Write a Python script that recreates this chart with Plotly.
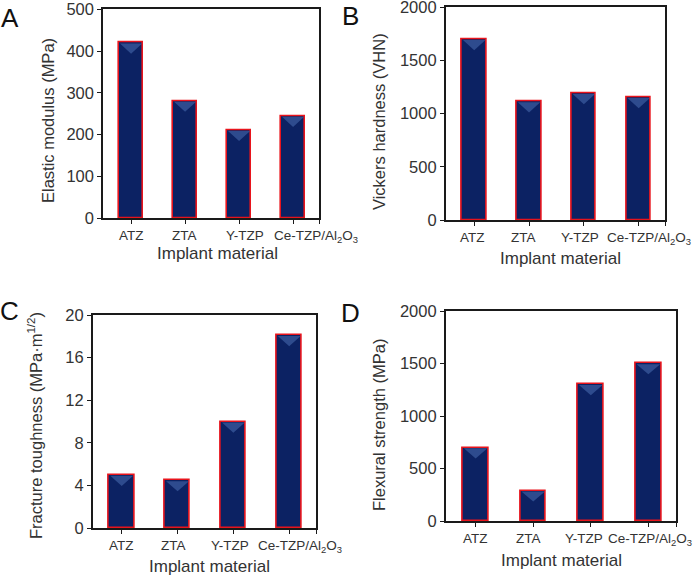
import plotly.graph_objects as go

materials = ["ATZ", "ZTA", "Y-TZP", "Ce-TZP/Al<sub>2</sub>O<sub>3</sub>"]
elastic_modulus = [420, 281, 211, 245]
vickers_hardness = [1700, 1115, 1192, 1155]
fracture_toughness = [5.0, 4.5, 10.0, 18.1]
flexural_strength = [700, 290, 1303, 1502]

panels = [
    dict(letter="A", values=elastic_modulus, ytitle="Elastic modulus (MPa)",
         yrange=[0, 500], dtick=100,
         px_x=[103, 319], px_y=[9.3, 218.3], label_shift=[0, -1, 6, 23],
         ytitle_pos=(48, 121), xtitle_pos=(217, 253), letter_pos=(10, 18)),
    dict(letter="B", values=vickers_hardness, ytitle="Vickers hardness (VHN)",
         yrange=[0, 2000], dtick=500,
         px_x=[445.7, 665], px_y=[7.3, 220], label_shift=[-2, -6, -4, 10],
         ytitle_pos=(379, 121), xtitle_pos=(560, 258), letter_pos=(351, 16)),
    dict(letter="C", values=fracture_toughness,
         ytitle="Fracture toughness (MPa·m<sup>1/2</sup>)",
         yrange=[0, 20], dtick=4,
         px_x=[92.7, 316], px_y=[315, 528.3], label_shift=[0, -4, -3, 11],
         ytitle_pos=(35, 426), xtitle_pos=(209, 566), letter_pos=(9, 311)),
    dict(letter="D", values=flexural_strength, ytitle="Flexural strength (MPa)",
         yrange=[0, 2000], dtick=500,
         px_x=[445.7, 676], px_y=[311, 521], label_shift=[0, -5, -7, 2],
         ytitle_pos=(379, 425), xtitle_pos=(561, 560), letter_pos=(351, 313)),
]

W, H = 697, 576
FONT = "Arial, Liberation Sans, Helvetica, sans-serif"
AXIS_COLOR = "#1a1a1a"
TEXT_COLOR = "#333333"
BAR_COLOR = "#0c2263"
TOP_COLOR = "#3a5a9c"
EDGE_COLOR = "#e8141c"
BAR_WIDTH = 0.45

fig = go.Figure()
annotations = []
xpos = list(range(len(materials)))

for i, p in enumerate(panels):
    n = "" if i == 0 else str(i + 1)
    xa, ya = "x" + n, "y" + n
    plot_h = p["px_y"][1] - p["px_y"][0]
    span = p["yrange"][1] - p["yrange"][0]
    tri_h = 11 * span / plot_h

    fig.add_trace(go.Bar(
        x=xpos, y=p["values"], width=BAR_WIDTH,
        marker=dict(color=BAR_COLOR, line=dict(color=EDGE_COLOR, width=1.6)),
        xaxis=xa, yaxis=ya, showlegend=False, hoverinfo="skip",
    ))
    # lighter bevel triangle at the top of each bar
    for k, v in enumerate(p["values"]):
        fig.add_trace(go.Scatter(
            x=[k - BAR_WIDTH / 2 + 0.02, k + BAR_WIDTH / 2 - 0.02, k, k - BAR_WIDTH / 2 + 0.02],
            y=[v - span * 0.004, v - span * 0.004, v - tri_h, v - span * 0.004],
            fill="toself", fillcolor=TOP_COLOR, mode="lines",
            line=dict(width=0), opacity=0.75,
            xaxis=xa, yaxis=ya, showlegend=False, hoverinfo="skip",
        ))

    axis_common = dict(
        showline=True, linecolor=AXIS_COLOR, linewidth=1.5, mirror=True,
        ticks="outside", ticklen=4, tickwidth=1.2, tickcolor=AXIS_COLOR,
        showgrid=False, zeroline=False, automargin=False,
    )
    fig.layout["xaxis" + n] = dict(
        domain=[p["px_x"][0] / W, p["px_x"][1] / W],
        anchor=ya, range=[-0.52, 3.48],
        tickvals=xpos + [3.48], showticklabels=False,
        **axis_common,
    )
    fig.layout["yaxis" + n] = dict(
        domain=[1 - p["px_y"][1] / H, 1 - p["px_y"][0] / H],
        anchor=xa, range=p["yrange"], dtick=p["dtick"],
        tickfont=dict(family=FONT, size=16.5, color=TEXT_COLOR),
        ticklabeloverflow="allow",
        **axis_common,
    )

    # category labels under the x axis
    for k, name in enumerate(materials):
        annotations.append(dict(
            text=name, x=k, y=0, xref=xa, yref=ya + " domain",
            xanchor="center", yanchor="top", yshift=-8, xshift=p["label_shift"][k],
            showarrow=False, font=dict(family=FONT, size=13.5, color=TEXT_COLOR),
        ))

    annotations.append(dict(
        text=p["ytitle"], x=p["ytitle_pos"][0] / W, y=1 - p["ytitle_pos"][1] / H,
        xref="paper", yref="paper", showarrow=False, textangle=-90,
        xanchor="center", yanchor="middle",
        font=dict(family=FONT, size=16.5, color=TEXT_COLOR),
    ))
    annotations.append(dict(
        text="Implant material", x=p["xtitle_pos"][0] / W, y=1 - p["xtitle_pos"][1] / H,
        xref="paper", yref="paper", showarrow=False,
        xanchor="center", yanchor="middle",
        font=dict(family=FONT, size=17, color=TEXT_COLOR),
    ))
    annotations.append(dict(
        text=p["letter"], x=p["letter_pos"][0] / W, y=1 - p["letter_pos"][1] / H,
        xref="paper", yref="paper", showarrow=False,
        xanchor="center", yanchor="middle",
        font=dict(family=FONT, size=26, color="#111111"),
    ))

fig.update_layout(
    width=W, height=H, margin=dict(l=0, r=0, t=0, b=0),
    paper_bgcolor="white", plot_bgcolor="white",
    annotations=annotations, bargap=0,
)

fig.write_html(
    "out.html",
    config={"displayModeBar": False},
    post_script="document.body.style.margin='0';document.body.style.overflow='hidden';",
)
